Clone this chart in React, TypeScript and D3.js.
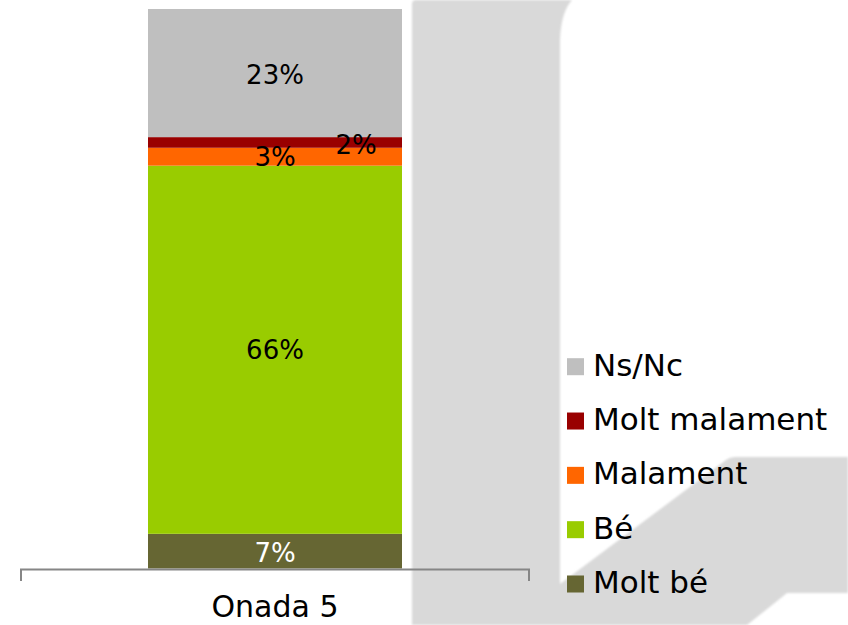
import React from "react";
import * as d3 from "d3";

const categories = ["Onada 5"];
const seriesKeys = ["Molt bé", "Bé", "Malament", "Molt malament", "Ns/Nc"];
const seriesValues = [6.2, 65.8, 3.2, 1.9, 22.9];
const seriesLabels = ["7%", "66%", "3%", "2%", "23%"];
const seriesColors = ["#666633", "#99cc00", "#ff6600", "#990000", "#bfbfbf"];
const labelColors = ["#ffffff", "#000000", "#000000", "#000000", "#000000"];

const W = 848;
const H = 625;
const FONT = "'DejaVu Sans', sans-serif";

export default function App() {
  const x = d3
    .scaleBand<string>()
    .domain(categories)
    .range([21, 529])
    .paddingInner(0.5)
    .paddingOuter(0.25);
  const y = d3.scaleLinear().domain([0, 100]).range([568.5, 9]);

  const row: Record<string, number | string> = { cat: categories[0] };
  seriesKeys.forEach((k, i) => (row[k] = seriesValues[i]));
  const stacked = d3.stack<any>().keys(seriesKeys)([row]);

  const legendKeys = [...seriesKeys].reverse();
  const legendY = d3.scalePoint<string>().domain(legendKeys).range([375.7, 593]);

  const labelDx: Record<string, number> = { "Molt malament": 81 };
  const labelDy: Record<string, number> = { "Molt malament": 2, "Ns/Nc": 2, "Molt bé": 1.5 };

  const bgPath =
    "M412,4 Q412,0 416,0 L572,0 Q561,12 560,40 L560,584 L726,460 Q730,457 736,457 L848,457 L848,593 L787,593 L747,625 L412,625 Z";

  const bw = x.bandwidth();
  const cx = (x(categories[0]) as number) + bw / 2;

  return (
    <div style={{ position: "fixed", left: 0, top: 0, width: W, height: H }}>
      <svg width={W} height={H} style={{ display: "block", background: "#ffffff" }}>
        <defs>
          <filter id="soft" x="-5%" y="-5%" width="110%" height="110%">
            <feGaussianBlur stdDeviation="0.8" />
          </filter>
        </defs>
        <path d={bgPath} fill="#d9d9d9" filter="url(#soft)" />

        {stacked.map((s, i) =>
          s.map((d, j) => (
            <rect
              key={`${i}-${j}`}
              x={x(d.data.cat as string)}
              width={bw}
              y={y(d[1])}
              height={y(d[0]) - y(d[1])}
              fill={seriesColors[i]}
            />
          ))
        )}

        {stacked.map((s, i) =>
          s.map((d, j) => {
            const key = seriesKeys[i];
            const mid = (y(d[0]) + y(d[1])) / 2 + (labelDy[key] || 0);
            return (
              <text
                key={`l-${i}-${j}`}
                x={cx + (labelDx[key] || 0)}
                y={mid}
                dy="0.36em"
                textAnchor="middle"
                fontFamily={FONT}
                fontSize={26}
                fill={labelColors[i]}
              >
                {seriesLabels[i]}
              </text>
            );
          })
        )}

        <path
          d={`M${x.range()[0]},581 V569.5 H${x.range()[1]} V581`}
          fill="none"
          stroke="#868686"
          strokeWidth={2}
        />
        <text
          x={cx}
          y={617}
          textAnchor="middle"
          fontFamily={FONT}
          fontSize={30}
          fill="#000000"
        >
          {categories[0]}
        </text>

        {legendKeys.map((k) => {
          const i = seriesKeys.indexOf(k);
          const by = legendY(k) as number;
          return (
            <g key={`lg-${k}`}>
              <rect x={567} y={by - 17.5} width={17} height={17} fill={seriesColors[i]} />
              <text x={593} y={by} fontFamily={FONT} fontSize={31} fill="#000000">
                {k}
              </text>
            </g>
          );
        })}
      </svg>
    </div>
  );
}
